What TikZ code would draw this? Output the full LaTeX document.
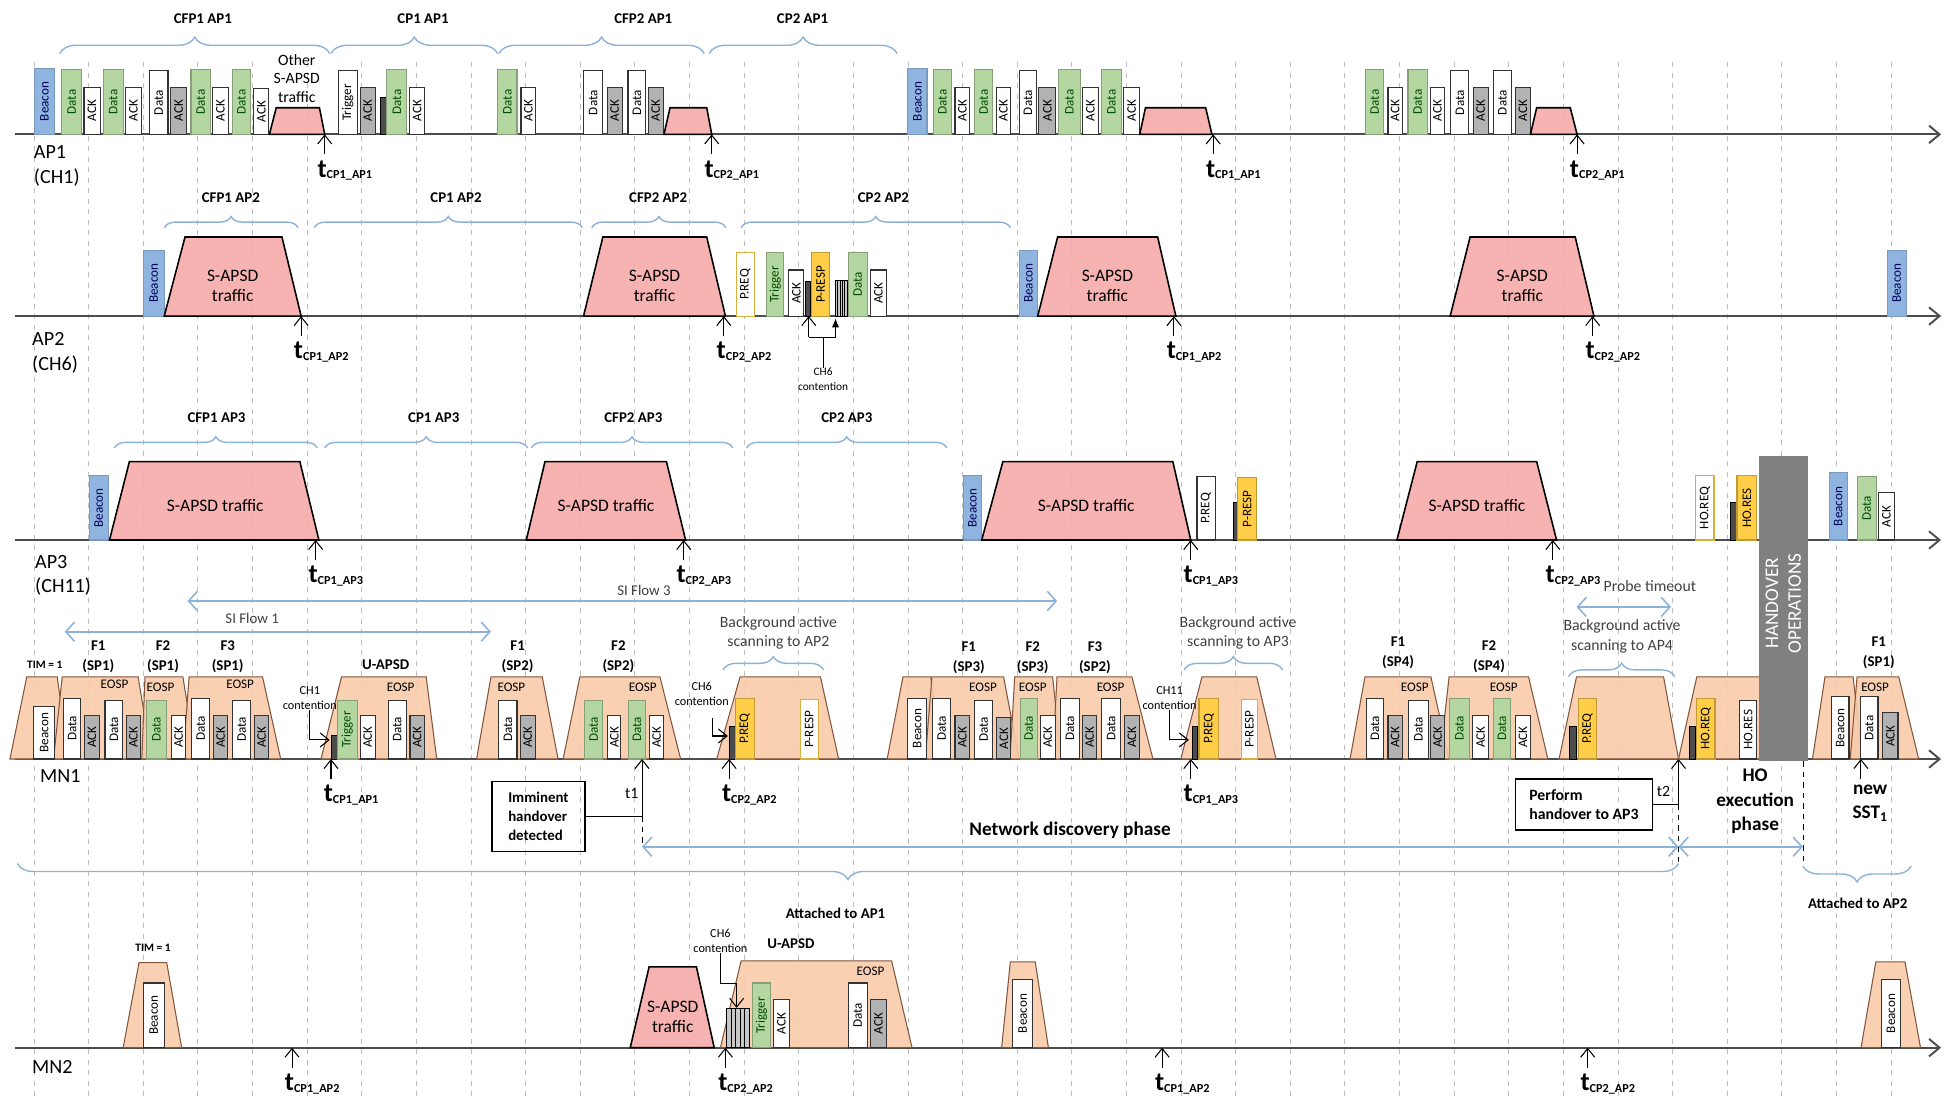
\documentclass[tikz,border=0pt]{standalone}
\usepackage{fontspec}
\setmainfont{Carlito}
\usetikzlibrary{arrows.meta,decorations.pathreplacing}

\definecolor{bcnblue}{RGB}{143,180,224}
\definecolor{dgreen}{RGB}{180,214,160}
\definecolor{ackgray}{RGB}{178,178,178}
\definecolor{pyellow}{RGB}{255,205,70}
\definecolor{pinkfill}{RGB}{246,170,170}
\definecolor{peach}{RGB}{248,203,170}
\definecolor{peachline}{RGB}{130,85,60}
\definecolor{braceblue}{RGB}{140,178,218}
\definecolor{hogray}{RGB}{128,128,128}

\tikzset{
  gridln/.style={gray!50, dashed, line width=0.5pt},
  tline/.style={gray!60!black, line width=1.1pt, -{Straight Barb[length=6pt,width=10pt]}},
  pkt/.style={line width=0.6pt},
  bcn/.style={pkt, fill=bcnblue, draw=bcnblue!85!black, text=blue!35!black},
  gdata/.style={pkt, fill=dgreen, draw=dgreen!75!black, text=green!30!black},
  wbox/.style={pkt, fill=white, draw=black!80},
  gbox/.style={pkt, fill=ackgray, draw=black!80},
  ybox/.style={pkt, fill=pyellow, draw=pyellow!75!black},
  ywbox/.style={pkt, fill=white, draw=pyellow!85!black},
  dbar/.style={fill=gray!60!black, draw=black, line width=0.4pt},
  sapsd/.style={fill=pinkfill, fill opacity=0.9, draw=black, line width=0.9pt},
  peachtr/.style={fill=peach, fill opacity=0.9, draw=peachline, line width=0.6pt},
  brc/.style={draw=braceblue, line width=0.8pt, decorate, decoration={brace, amplitude=#1}},
  brc/.default=0.225cm,
  flow/.style={braceblue, line width=0.9pt, {Straight Barb[length=5pt,width=11pt]}-{Straight Barb[length=5pt,width=11pt]}},
  tarr/.style={-{Straight Barb[length=5pt,width=8pt]}, line width=0.6pt},
  pktxt/.style={rotate=90, font=\fontsize{7.5}{8}\selectfont, inner sep=0},
  rowlbl/.style={anchor=north west, align=left, inner sep=0, font=\fontsize{11.5}{14}\selectfont},
  brk/.style={font=\fontsize{8.5}{10}\selectfont\bfseries},
  flab/.style={font=\fontsize{8.5}{11.4}\selectfont\bfseries, align=center},
  eosp/.style={font=\fontsize{7.5}{8}\selectfont},
  cnt/.style={font=\fontsize{6.5}{8.5}\selectfont, align=center, inner sep=0},
  bga/.style={font=\fontsize{9}{11.2}\selectfont, align=center, text=black!75},
  trf/.style={font=\fontsize{10}{11.4}\selectfont, align=center},
  phase/.style={font=\fontsize{11}{14}\selectfont\bfseries, align=center},
  note/.style={draw, line width=1pt, font=\fontsize{8.5}{10.9}\selectfont\bfseries, align=left, inner sep=4pt},
}

\newcounter{pk}
\newcommand{\pkt}[5]{\draw[#1] (#2,\rowy) rectangle (#3,#4);
  \stepcounter{pk}\node[pktxt,#1,fill=none,draw=none] (pk\thepk) at ({(#2+#3)/2},{(\rowy+#4)/2}) {#5};}
\newcommand{\trap}[6]{\draw[#1] (#2,\rowy) -- (#3,#6) -- (#4,#6) -- (#5,\rowy) -- cycle;}
\newcommand{\tlab}[1]{{\fontsize{15}{15}\selectfont\bfseries t}\raisebox{-1pt}{\fontsize{7}{7}\selectfont\bfseries #1}}
\newcommand{\tmk}[3]{\coordinate (#2) at (#1,\rowy);
  \coordinate (#2s) at (#1,\rowy+16);
  \draw[tarr] (#2s) -- (#2);
  \node[anchor=west, inner sep=0] (#2l) at (#1-6,\rowy+29) {\tlab{#3}};}
\newcommand{\strp}[3]{\draw[fill=gray!45, line width=0.4pt] (#1,\rowy) rectangle (#2,#3);
  \foreach \s in {1,...,4} \draw[line width=0.4pt] ({#1+(#2-#1)*\s/5},\rowy) -- ({#1+(#2-#1)*\s/5},#3);}

\begin{document}
\begin{tikzpicture}[x=0.025cm, y=-0.025cm]
\useasboundingbox (0,0) rectangle (1568,882);

\foreach \k in {0,...,34}
  \draw[gridln] ({27.3+43.9*\k},50) -- ({27.3+43.9*\k},882);

\foreach \r/\y in {ap1/108, ap2/254, ap3/434, mn1/610, mn2/842}{
  \coordinate (\r-o) at (12,\y);
  \coordinate (\r-e) at (1560,\y);
  \draw[tline] (\r-o) -- (\r-e);}

\node[rowlbl] (ap1) at (27,117) {AP1\\(CH1)};
\node[rowlbl] (ap2) at (25.6,267) {AP2\\(CH6)};
\node[rowlbl] (ap3) at (28,446) {AP3\\(CH11)};
\node[rowlbl] (mn1) at (32,618) {MN1};
\node[rowlbl] (mn2) at (25.5,852) {MN2};

% AP1
\draw[brc=0.33cm] (48,43) -- (265,43);
\draw[brc=0.33cm] (266,43) -- (400,43);
\draw[brc=0.33cm] (401,43) -- (566,43);
\draw[brc=0.33cm] (570,43) -- (721,43);
\node[brk] (cfp1a1) at (163,15) {CFP1 AP1};
\node[brk] (cp1a1) at (340,15) {CP1 AP1};
\node[brk] (cfp2a1) at (517,15) {CFP2 AP1};
\node[brk] (cp2a1) at (645,15) {CP2 AP1};

\def\rowy{108}
\pkt{bcn}{28}{43.5}{55}{Beacon}
\pkt{gdata}{49.6}{65.6}{56}{Data}
\pkt{wbox}{67.5}{80.4}{70}{ACK}
\pkt{gdata}{83}{99}{56}{Data}
\pkt{wbox}{100.5}{114}{70}{ACK}
\pkt{wbox}{120}{135}{57}{Data}
\pkt{gbox}{137}{150}{70}{ACK}
\pkt{gdata}{153.5}{169}{56}{Data}
\pkt{wbox}{170.6}{183.5}{70}{ACK}
\pkt{gdata}{186.7}{201.5}{56}{Data}
\pkt{wbox}{204}{216}{71}{ACK}
\trap{sapsd}{216.5}{222}{256.7}{261}{86.6}
\node[font=\fontsize{9}{10.7}\selectfont, align=center] (oth) at (238.5,63) {Other\\S-APSD\\traffic};
\tmk{261}{ta1}{CP1\_AP1}
\pkt{wbox}{272}{287}{57}{Trigger}
\pkt{gbox}{289.5}{301.5}{70}{ACK}
\draw[dbar] (306,\rowy) rectangle (311,78.5);
\pkt{gdata}{311}{327}{56}{Data}
\pkt{wbox}{329}{341.5}{70}{ACK}
\pkt{gdata}{400}{415.5}{56}{Data}
\pkt{wbox}{418.7}{430.7}{70}{ACK}
\pkt{wbox}{469}{484.6}{57}{Data}
\pkt{gbox}{488}{500}{70}{ACK}
\pkt{wbox}{504.7}{519}{57}{Data}
\pkt{gbox}{521}{533}{70}{ACK}
\trap{sapsd}{533.6}{538.5}{568}{572}{86.6}
\tmk{572}{ta2}{CP2\_AP1}
\pkt{bcn}{729.7}{745}{55}{Beacon}
\pkt{gdata}{750}{765}{56}{Data}
\pkt{wbox}{767.5}{779.5}{70}{ACK}
\pkt{gdata}{783}{798}{56}{Data}
\pkt{wbox}{800.5}{812.5}{70}{ACK}
\pkt{wbox}{819.7}{832.7}{57}{Data}
\pkt{gbox}{835}{848.5}{70}{ACK}
\pkt{gdata}{851}{868}{56}{Data}
\pkt{wbox}{870}{882.5}{70}{ACK}
\pkt{gdata}{885.6}{901}{56}{Data}
\pkt{wbox}{903}{916}{70}{ACK}
\trap{sapsd}{916}{920.6}{969}{974}{86.6}
\tmk{975}{ta3}{CP1\_AP1}
\pkt{gdata}{1097.6}{1112}{56}{Data}
\pkt{wbox}{1115.5}{1127}{70}{ACK}
\pkt{gdata}{1131.6}{1147}{56}{Data}
\pkt{wbox}{1149.6}{1161}{70}{ACK}
\pkt{wbox}{1166}{1180.5}{57}{Data}
\pkt{gbox}{1184}{1196}{70}{ACK}
\pkt{wbox}{1200}{1215}{57}{Data}
\pkt{gbox}{1218}{1230}{70}{ACK}
\trap{sapsd}{1230}{1235}{1262}{1267.5}{86.6}
\tmk{1267.5}{ta4}{CP2\_AP1}

% AP2
\draw[brc] (132,183) -- (239.5,183);
\draw[brc] (252.6,183) -- (468,183);
\draw[brc] (475.6,183) -- (583.4,183);
\draw[brc] (595.6,183) -- (812,183);
\node[brk] (cfp1a2) at (185.5,159) {CFP1 AP2};
\node[brk] (cp1a2) at (366.5,159) {CP1 AP2};
\node[brk] (cfp2a2) at (529,159) {CFP2 AP2};
\node[brk] (cp2a2) at (710,159) {CP2 AP2};

\def\rowy{254}
\pkt{bcn}{115}{132}{201}{Beacon}
\trap{sapsd}{132}{148.7}{226.6}{242}{190.5}
\node[trf] (tr1) at (187,229.8) {S-APSD\\traffic};
\tmk{242}{tb1}{CP1\_AP2}
\trap{sapsd}{469}{484.5}{568}{583}{190.5}
\node[trf] (tr2) at (526,229.8) {S-APSD\\traffic};
\tmk{581.7}{tb2}{CP2\_AP2}
\pkt{ywbox}{592}{606}{203}{P.REQ}
\pkt{gdata}{616}{630}{203}{Trigger}
\pkt{wbox}{634}{646}{217}{ACK}
\draw[dbar] (647,\rowy) rectangle (651,226);
\pkt{ybox}{652}{667}{203}{P-RESP}
\strp{671.5}{680.6}{225}
\pkt{gdata}{681.6}{697}{203}{Data}
\pkt{wbox}{699.6}{712.5}{217}{ACK}
\node[cnt] (ch6a) at (661.5,305) {CH6\\contention};
\coordinate (k1) at (650,271);
\coordinate (k2) at (671.5,271);
\coordinate (k3) at (650,\rowy);
\coordinate (k4) at (671.5,256);
\draw (ch6a.north) -- (ch6a.north |- k1);
\draw (k1) -- (k2);
\draw[tarr] (k1) -- (k3);
\draw[-{Latex[length=5pt,width=4pt]}] (k2) -- (k4);
\pkt{bcn}{819}{834}{201}{Beacon}
\trap{sapsd}{834}{850}{930.4}{945}{190.5}
\node[trf] (tr3) at (890,229.8) {S-APSD\\traffic};
\tmk{943.5}{tb3}{CP1\_AP2}
\trap{sapsd}{1165.5}{1181.5}{1266}{1281}{190.5}
\node[trf] (tr4) at (1223.5,229.8) {S-APSD\\traffic};
\tmk{1280}{tb4}{CP2\_AP2}
\pkt{bcn}{1516.6}{1532}{201}{Beacon}

% AP3
\draw[brc] (92,360) -- (255,360);
\draw[brc] (261,360) -- (424,360);
\draw[brc] (427,360) -- (589,360);
\draw[brc] (600,360) -- (761,360);
\node[brk] (cfp1a3) at (174,336) {CFP1 AP3};
\node[brk] (cp1a3) at (348.6,336) {CP1 AP3};
\node[brk] (cfp2a3) at (509,336) {CFP2 AP3};
\node[brk] (cp2a3) at (680.6,336) {CP2 AP3};

\def\rowy{434}
\pkt{bcn}{71.7}{87}{382.5}{Beacon}
\trap{sapsd}{88}{104}{241}{256.3}{371}
\node[trf] (tr5) at (173,406) {S-APSD traffic};
\tmk{253.7}{tc1}{CP1\_AP3}
\trap{sapsd}{423}{438}{535.6}{551}{371}
\node[trf] (tr6) at (487,406) {S-APSD traffic};
\tmk{549.5}{tc2}{CP2\_AP3}
\pkt{bcn}{774}{789}{382.5}{Beacon}
\trap{sapsd}{789}{806}{942.6}{957}{371}
\node[trf] (tr7) at (873,406) {S-APSD traffic};
\tmk{957}{tc3}{CP1\_AP3}
\pkt{wbox}{962}{976.5}{383}{P.REQ}
\draw[dbar] (991,\rowy) rectangle (994.7,404);
\pkt{ybox}{994.7}{1010}{384}{P-RESP}
\trap{sapsd}{1122.7}{1139}{1235}{1251}{371}
\node[trf] (tr8) at (1187,406) {S-APSD traffic};
\tmk{1248}{tc4}{CP2\_AP3}
\pkt{ywbox}{1363}{1377.5}{382.5}{HO.REQ}
\draw[dbar] (1391,\rowy) rectangle (1396,404);
\pkt{ybox}{1396}{1412}{382.5}{HO.RES}
\pkt{bcn}{1470}{1484.6}{380}{Beacon}
\pkt{gdata}{1492.5}{1508}{383}{Data}
\pkt{wbox}{1509.6}{1522.6}{396}{ACK}

% service intervals
\coordinate (sf3a) at (150.7,483);
\coordinate (sf3b) at (849.6,483);
\draw[flow] (sf3a) -- (sf3b);
\node[bga, font=\fontsize{8.5}{10}\selectfont] (sf3) at (517.6,474.7) {SI Flow 3};
\coordinate (sf1a) at (52,507.7);
\coordinate (sf1b) at (394.6,507.7);
\draw[flow] (sf1a) -- (sf1b);
\node[bga, font=\fontsize{8.5}{10}\selectfont] (sf1) at (202.7,496.7) {SI Flow 1};

% MN1
\def\rowy{610}
\node[flab, font=\fontsize{6.5}{8}\selectfont\bfseries] (tim1) at (36,534.5) {TIM = 1};
\trap{peachtr}{8}{21.5}{46}{55}{544}
\trap{peachtr}{43}{50}{111}{122}{544}
\trap{peachtr}{114}{116.5}{147}{157.6}{544}
\trap{peachtr}{147}{152}{211}{225.6}{544}
\pkt{wbox}{27}{44}{567.7}{Beacon}
\pkt{wbox}{51}{65}{561}{Data}
\pkt{gbox}{68}{79.7}{575}{ACK}
\pkt{wbox}{84.4}{98.7}{562.6}{Data}
\pkt{gbox}{101.5}{113}{575}{ACK}
\pkt{gdata}{118}{133.5}{562.6}{Data}
\pkt{wbox}{138}{149}{575}{ACK}
\pkt{wbox}{154}{168.6}{561}{Data}
\pkt{gbox}{171.5}{183}{575}{ACK}
\pkt{wbox}{187}{201.6}{562.6}{Data}
\pkt{gbox}{204.5}{216}{575}{ACK}
\node[eosp] (e1) at (92,550) {EOSP};
\node[eosp] (e2) at (129,552) {EOSP};
\node[eosp] (e3) at (193,550) {EOSP};
\node[flab] (f11) at (79,527.7) {F1\\(SP1)};
\node[flab] (f21) at (131,527.7) {F2\\(SP1)};
\node[flab] (f31) at (183,527.7) {F3\\(SP1)};

\trap{peachtr}{258}{274.5}{342.5}{351}{544}
\draw[dbar] (266,\rowy) rectangle (271,590.7);
\pkt{gdata}{271}{287}{562.6}{Trigger}
\pkt{wbox}{289.6}{301.5}{575}{ACK}
\pkt{wbox}{312}{326.6}{562.6}{Data}
\pkt{gbox}{329.5}{341}{575}{ACK}
\node[flab] (ua1) at (310,534.5) {U-APSD};
\node[eosp] (e4) at (322,552) {EOSP};
\node[cnt, font=\fontsize{7}{8.5}\selectfont] (ch1) at (249,561) {CH1\\contention};
\coordinate (c1e) at (265,594.7);
\draw[tarr] (ch1.south) |- (c1e);
\tmk{266}{tm1}{CP1\_AP1}

\trap{peachtr}{383}{394.6}{435.8}{448.5}{544}
\pkt{wbox}{401}{415.5}{562.6}{Data}
\pkt{gbox}{418}{430}{575}{ACK}
\node[eosp] (e5) at (411,552) {EOSP};
\node[flab] (f12) at (416,527.7) {F1\\(SP2)};

\trap{peachtr}{452.6}{466}{530.4}{547}{544}
\pkt{gdata}{470}{484.5}{562.6}{Data}
\pkt{wbox}{488.6}{499}{575}{ACK}
\pkt{gdata}{505}{519}{562.6}{Data}
\pkt{wbox}{522}{533.5}{575}{ACK}
\node[eosp] (e6) at (516.6,552) {EOSP};
\node[flab] (f22) at (497,527.7) {F2\\(SP2)};

\node[note, minimum width=1.865cm, minimum height=1.41cm] (imm) at (432.7,656.2) {Imminent\\handover\\detected};
\coordinate (t1) at (516,\rowy);
\coordinate (ndl) at (516,680.5);
\draw (imm.east) -- (imm.east -| t1);
\draw[tarr] (imm.east -| t1) -- (t1);
\draw[dashed] (imm.east -| t1) -- (ndl);
\node[font=\fontsize{9}{9}\selectfont] (t1l) at (507.7,637.6) {t1};

\trap{peachtr}{576}{594.8}{659.4}{674}{544}
\draw[dbar] (586,\rowy) rectangle (590.7,583.5);
\pkt{ybox}{591}{606}{561}{P.REQ}
\pkt{ywbox}{643}{657.6}{562}{P-RESP}
\draw[brc=0.27cm] (581,538.5) -- (662,538.5);
\node[bga] (bg2) at (625.6,508.7) {Background active\\scanning to AP2};
\node[cnt, font=\fontsize{7}{8.5}\selectfont] (ch6m) at (564,558) {CH6\\contention};
\coordinate (c6s) at (573,577);
\coordinate (c6e) at (585,591.5);
\draw[tarr] (c6s) |- (c6e);
\tmk{586}{tm2}{CP2\_AP2}

\trap{peachtr}{713}{725.7}{748}{757}{544}
\trap{peachtr}{743.6}{749}{806.6}{819}{544}
\trap{peachtr}{811.7}{815.5}{846}{853}{544}
\trap{peachtr}{846}{849.5}{909.7}{926.6}{544}
\pkt{wbox}{729.4}{744.8}{561}{Beacon}
\pkt{wbox}{749.8}{764}{561}{Data}
\pkt{gbox}{767.5}{779.5}{575}{ACK}
\pkt{wbox}{783}{798}{562.6}{Data}
\pkt{gbox}{801}{812.5}{577}{ACK}
\pkt{gdata}{820}{833.5}{561}{Data}
\pkt{wbox}{836}{848}{575}{ACK}
\pkt{wbox}{852.5}{867.5}{561}{Data}
\pkt{gbox}{870}{881.6}{575}{ACK}
\pkt{wbox}{885.5}{900.5}{561}{Data}
\pkt{gbox}{903.4}{916}{575}{ACK}
\node[eosp] (e7) at (790,552) {EOSP};
\node[eosp] (e8) at (830,552) {EOSP};
\node[eosp] (e9) at (892.6,552) {EOSP};
\node[flab] (f13) at (778.6,528.3) {F1\\(SP3)};
\node[flab] (f23) at (830,528.3) {F2\\(SP3)};
\node[flab] (f32) at (880,528.3) {F3\\(SP2)};

\trap{peachtr}{949}{966}{1010}{1025.5}{544}
\draw[dbar] (958,\rowy) rectangle (962.6,583.5);
\pkt{ybox}{963.6}{979.5}{561}{P.REQ}
\pkt{ywbox}{997.4}{1011}{562}{P-RESP}
\draw[brc=0.27cm] (951.6,538.5) -- (1030.8,538.5);
\node[bga] (bg3) at (995,508.7) {Background active\\scanning to AP3};
\node[cnt, font=\fontsize{7}{8.5}\selectfont] (ch11) at (940,561) {CH11\\contention};
\coordinate (c11e) at (955.5,594.7);
\draw[tarr] (ch11.south) |- (c11e);
\tmk{957}{tm3}{CP1\_AP3}

\trap{peachtr}{1085}{1097}{1150}{1164.6}{544}
\trap{peachtr}{1157.3}{1164.6}{1228.5}{1244}{544}
\pkt{wbox}{1098}{1112}{561}{Data}
\pkt{gbox}{1115.5}{1127.2}{575}{ACK}
\pkt{wbox}{1132}{1148}{562.6}{Data}
\pkt{gbox}{1150}{1161}{575}{ACK}
\pkt{gdata}{1165.3}{1180.7}{561}{Data}
\pkt{wbox}{1183.8}{1196}{575}{ACK}
\pkt{gdata}{1200}{1214.3}{561}{Data}
\pkt{wbox}{1218}{1230}{575}{ACK}
\node[eosp] (e10) at (1137,552.6) {EOSP};
\node[eosp] (e11) at (1208.6,552.6) {EOSP};
\node[flab] (f14) at (1123.6,524.5) {F1\\(SP4)};
\node[flab] (f24) at (1196.7,527.7) {F2\\(SP4)};

\trap{peachtr}{1253}{1267}{1337}{1349}{544}
\draw[dbar] (1261,\rowy) rectangle (1267,584);
\pkt{ybox}{1268.6}{1283}{561}{P.REQ}
\draw[brc=0.27cm] (1260.6,543.8) -- (1346,543.8);
\node[bga] (bg4) at (1303.6,511.6) {Background active\\scanning to AP4};
\coordinate (pt1) at (1267,487.8);
\coordinate (pt2) at (1343,487.8);
\draw[flow] (pt1) -- (pt2);
\node[bga] (prb) at (1326,471) {Probe timeout};

\node[note, font=\fontsize{9}{10.5}\selectfont\bfseries, minimum width=2.75cm, minimum height=1.025cm] (perf) at (1273,646.5) {Perform\\handover to AP3};
\coordinate (t2) at (1349,\rowy);
\coordinate (ndr) at (1349,680.5);
\coordinate (lbr) at (1349,694);
\draw (perf.east) -- (perf.east -| t2);
\draw[tarr] (perf.east -| t2) -- (t2);
\draw[dashed] (perf.east -| t2) -- (lbr);
\node[font=\fontsize{9}{9}\selectfont] (t2l) at (1337,636) {t2};

\trap{peachtr}{1349}{1363.7}{1420}{1430}{544}
\draw[dbar] (1357.5,\rowy) rectangle (1362.4,584);
\pkt{ybox}{1363.7}{1378.3}{561}{HO.REQ}
\pkt{wbox}{1398}{1412}{562.6}{HO.RES}
\fill[hogray] (1413.4,366.5) rectangle (1453,612);
\node[rotate=90, text=white, font=\fontsize{11}{13}\selectfont, align=center] (hoop) at (1433.2,485) {HANDOVER\\OPERATIONS};

\trap{peachtr}{1456.7}{1466.7}{1489.3}{1497}{544}
\trap{peachtr}{1487}{1492.5}{1526}{1542}{544}
\pkt{wbox}{1472}{1486}{560}{Beacon}
\pkt{wbox}{1495.4}{1509.3}{560}{Data}
\pkt{gbox}{1513}{1525.4}{573}{ACK}
\node[eosp] (e14) at (1507,552.6) {EOSP};
\node[flab] (f1n) at (1510,524.6) {F1\\(SP1)};
\coordinate (sst) at (1495.6,\rowy);
\coordinate (ssts) at (1495.6,626);
\draw[tarr] (ssts) -- (sst);
\node[phase] (nsst) at (1503,645.5) {new\\SST\textsubscript{1}};

% phases
\node[phase] (hoex) at (1410.6,644) {HO\\execution\\phase};
\node[phase] (ndp) at (860,667) {Network discovery phase};
\draw[flow] (ndl) -- (ndr);
\coordinate (hoe) at (1449,680.5);
\draw[flow] (ndr) -- (hoe);
\coordinate (hot) at (1449,612);
\coordinate (aa2) at (1449,696);
\draw[dashed] (hot) -- (aa2);
\coordinate (aa1) at (14,694);
\draw[brc=0.32cm, decoration={mirror}] (aa1) -- (lbr);
\coordinate (ab2) at (1536,696);
\draw[brc=0.32cm, decoration={mirror}] (aa2) -- (ab2);
\node[brk] (att1) at (671.5,734) {Attached to AP1};
\node[brk] (att2) at (1493,725.8) {Attached to AP2};

% MN2
\def\rowy{842}
\trap{peachtr}{99}{111.7}{134}{146}{773.7}
\pkt{wbox}{115}{132}{790}{Beacon}
\node[flab, font=\fontsize{6.5}{8}\selectfont\bfseries] (tim2) at (123,762) {TIM = 1};
\tmk{234.7}{tn1}{CP1\_AP2}
\trap{sapsd}{506.5}{521.7}{559.7}{574}{777}
\node[trf] (tr9) at (540.7,817) {S-APSD\\traffic};
\trap{peachtr}{579}{595.6}{716.6}{733}{772.3}
\strp{584}{602}{810}
\pkt{gdata}{605}{619}{790}{Trigger}
\pkt{wbox}{621.7}{634.5}{803.6}{ACK}
\pkt{wbox}{681.6}{697}{790}{Data}
\pkt{gbox}{699.6}{712.5}{803.6}{ACK}
\node[eosp] (e15) at (699.6,781) {EOSP};
\node[flab] (ua2) at (635.6,758.6) {U-APSD};
\node[cnt, font=\fontsize{7}{8.5}\selectfont] (ch6n) at (579,756) {CH6\\contention};
\coordinate (c6n) at (592,810);
\draw[tarr] (ch6n.south) -- ++(0,25) -| (c6n);
\tmk{583}{tn2}{CP2\_AP2}
\trap{peachtr}{805}{812}{832}{842.6}{773}
\pkt{wbox}{814}{830}{787}{Beacon}
\tmk{934}{tn3}{CP1\_AP2}
\tmk{1276}{tn4}{CP2\_AP2}
\trap{peachtr}{1495.7}{1507.6}{1531}{1543.5}{773}
\pkt{wbox}{1511.8}{1527.5}{787}{Beacon}
\end{tikzpicture}
\end{document}
